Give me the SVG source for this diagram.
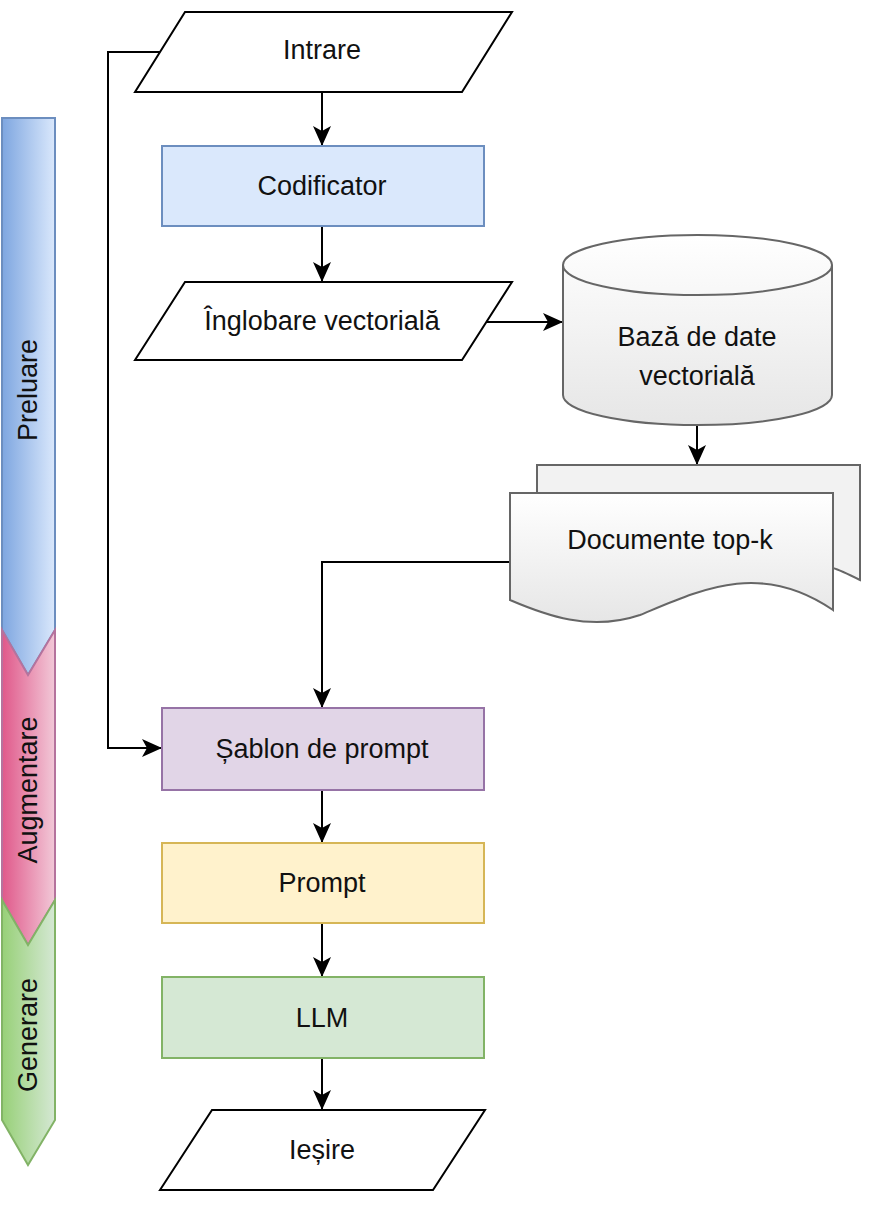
<svg xmlns="http://www.w3.org/2000/svg" width="880" height="1215" viewBox="0 0 880 1215">
<defs>
<marker id="ah" markerWidth="20" markerHeight="20" refX="19" refY="10" orient="auto" markerUnits="userSpaceOnUse" viewBox="0 0 20 20"><path d="M0,1 L20,10 L0,19 L5,10 z" fill="#000"/></marker>
<linearGradient id="gb" x1="0" x2="1"><stop offset="0" stop-color="#7ea6e0"/><stop offset="1" stop-color="#dae8fc"/></linearGradient>
<linearGradient id="gp" x1="0" x2="1"><stop offset="0" stop-color="#e0588a"/><stop offset="1" stop-color="#f2c9d8"/></linearGradient>
<linearGradient id="gg" x1="0" x2="1"><stop offset="0" stop-color="#97d077"/><stop offset="1" stop-color="#d5e8d4"/></linearGradient>
<linearGradient id="gd" x1="0" x2="0" y1="0" y2="1"><stop offset="0" stop-color="#ffffff"/><stop offset="1" stop-color="#e6e6e6"/></linearGradient>
</defs>
<style>
text{font-family:"Liberation Sans",Arial,sans-serif;font-size:27px;fill:#111;text-anchor:middle;dominant-baseline:central}
.io{fill:#fff;stroke:#000;stroke-width:2}
.c{fill:none;stroke:#000;stroke-width:2}
.g{stroke:#666;stroke-width:2}
</style>
<g id="phase-preluare"><path d="M2,118 H55 V630 L28,675 L2,630 Z" fill="url(#gb)" stroke="#6c8ebf" stroke-width="2"/><text transform="translate(28,390) rotate(-90)">Preluare</text></g>
<g id="phase-augmentare"><path d="M2,630 L28,675 L55,630 V900 L28,945 L2,900 Z" fill="url(#gp)" stroke="#b5739d" stroke-width="2"/><text transform="translate(28,790) rotate(-90)">Augmentare</text></g>
<g id="phase-generare"><path d="M2,900 L28,945 L55,900 V1120 L28,1165 L2,1120 Z" fill="url(#gg)" stroke="#82b366" stroke-width="2"/><text transform="translate(28,1035) rotate(-90)">Generare</text></g>
<g id="connectors" class="c">
<path d="M322,92 V145" marker-end="url(#ah)"/>
<path d="M322,226 V281" marker-end="url(#ah)"/>
<path d="M485,322 H562" marker-end="url(#ah)"/>
<path d="M697,425 V464" marker-end="url(#ah)"/>
<path d="M510,562 H322 V707" marker-end="url(#ah)"/>
<path d="M160,52 H108 V748 H161" marker-end="url(#ah)"/>
<path d="M322,790 V842" marker-end="url(#ah)"/>
<path d="M322,923 V976" marker-end="url(#ah)"/>
<path d="M322,1058 V1109" marker-end="url(#ah)"/>
</g>
<g id="intrare"><path class="io" d="M135,92 L185,12 H512 L462,92 Z"/><text x="322" y="50">Intrare</text></g>
<g id="codificator"><rect x="162" y="146" width="322" height="80" fill="#dae8fc" stroke="#6c8ebf" stroke-width="2"/><text x="322" y="186">Codificator</text></g>
<g id="inglobare"><path class="io" d="M135,360 L185,282 H512 L462,360 Z"/><text x="322" y="321">Înglobare vectorială</text></g>
<g id="baza"><path class="g" fill="url(#gd)" d="M563,265 A134,30 0 0 1 832,265 V395 A134,30 0 0 1 563,395 Z"/><path class="g" fill="none" d="M563,265 A134,30 0 0 0 832,265"/><text x="697" y="337">Bază de date</text><text x="697" y="376">vectorială</text></g>
<g id="documente"><path class="g" fill="#f2f2f2" d="M537,465 H860 V580 Q840,570 833,568 V493 H537 Z"/><path class="g" fill="url(#gd)" d="M510,493 H833 V610 C760,560 700,590 640,615 C590,632 545,615 510,600 Z"/><text x="670" y="540">Documente top-k</text></g>
<g id="sablon"><rect x="162" y="708" width="322" height="82" fill="#e1d5e7" stroke="#9673a6" stroke-width="2"/><text x="322" y="749">Șablon de prompt</text></g>
<g id="prompt"><rect x="162" y="843" width="322" height="80" fill="#fff2cc" stroke="#d6b656" stroke-width="2"/><text x="322" y="883">Prompt</text></g>
<g id="llm"><rect x="162" y="977" width="322" height="81" fill="#d5e8d4" stroke="#82b366" stroke-width="2"/><text x="322" y="1018">LLM</text></g>
<g id="iesire"><path class="io" d="M160,1190 L212,1110 H485 L433,1190 Z"/><text x="322" y="1150">Ieșire</text></g>
</svg>
